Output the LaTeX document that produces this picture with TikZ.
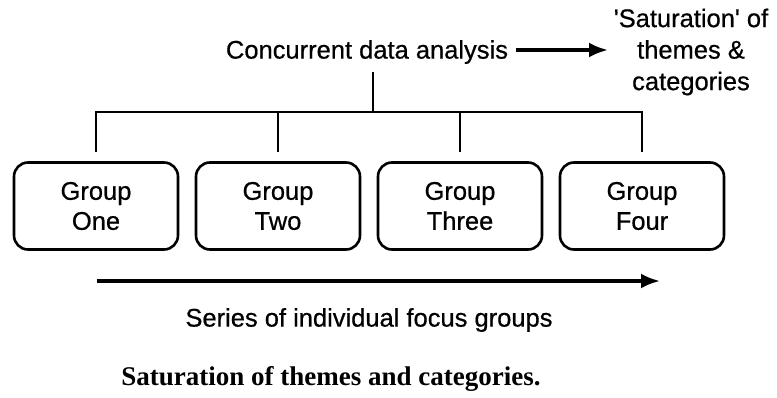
\documentclass[tikz,border=0pt]{standalone}
\usepackage{fontspec}
\setmainfont{Liberation Sans}[FakeBold=0.6]
\newfontfamily\capfont{Liberation Serif}
\usetikzlibrary{arrows.meta, positioning}

\begin{document}
\begin{tikzpicture}[
        x=1pt, y=-1pt,
        font=\fontsize{25.5}{30}\selectfont,
        group/.style={draw, line width=2.6pt, rounded corners=14pt, minimum width=164pt, minimum height=87pt, align=center},
        link/.style={line width=2.6pt},
        flow/.style={line width=3.4pt, -{Latex[length=19pt, width=15pt]}}
    ]
        \useasboundingbox (0,0) rectangle (777,398);

        \node[inner sep=2pt] (cda) at (367,52) {Concurrent data analysis};
        \node[align=center, font=\fontsize{25.5}{31.5}\selectfont] (sat) at (691,52) {\textquotesingle Saturation\textquotesingle{} of\\themes \&\\categories};
        \coordinate (satin) at (608,50);
        \coordinate (cdaout) at ([xshift=6pt]cda.east |- satin);
        \draw[flow] (cdaout) -- (satin);

        \foreach \name/\word [count=\i] in {One/One, Two/Two, Three/Three, Four/Four} {
            \node[group] (g\i) at ({96+182*(\i-1)},206) {Group\\\word};
        }

        % bracket from the analysis down to each group
        \coordinate (fork) at (373,112);
        \draw[link] (fork |- 0,72) -- (fork);
        \draw[link] ([yshift=9pt]g1.north) |- (fork) -| ([yshift=9pt]g4.north);
        \draw[link] ([yshift=9pt]g2.north) -- (g2.north |- fork);
        \draw[link] ([yshift=9pt]g3.north) -- (g3.north |- fork);

        \coordinate (s0) at (97,281);
        \coordinate (s1) at (660,281);
        \draw[flow] (s0) -- (s1);
        \node (series) at (369,320) {Series of individual focus groups};

        \node[font=\capfont\bfseries\fontsize{27}{30}\selectfont] (cap) at (331,379) {Saturation of themes and categories.};
    \end{tikzpicture}
\end{document}
